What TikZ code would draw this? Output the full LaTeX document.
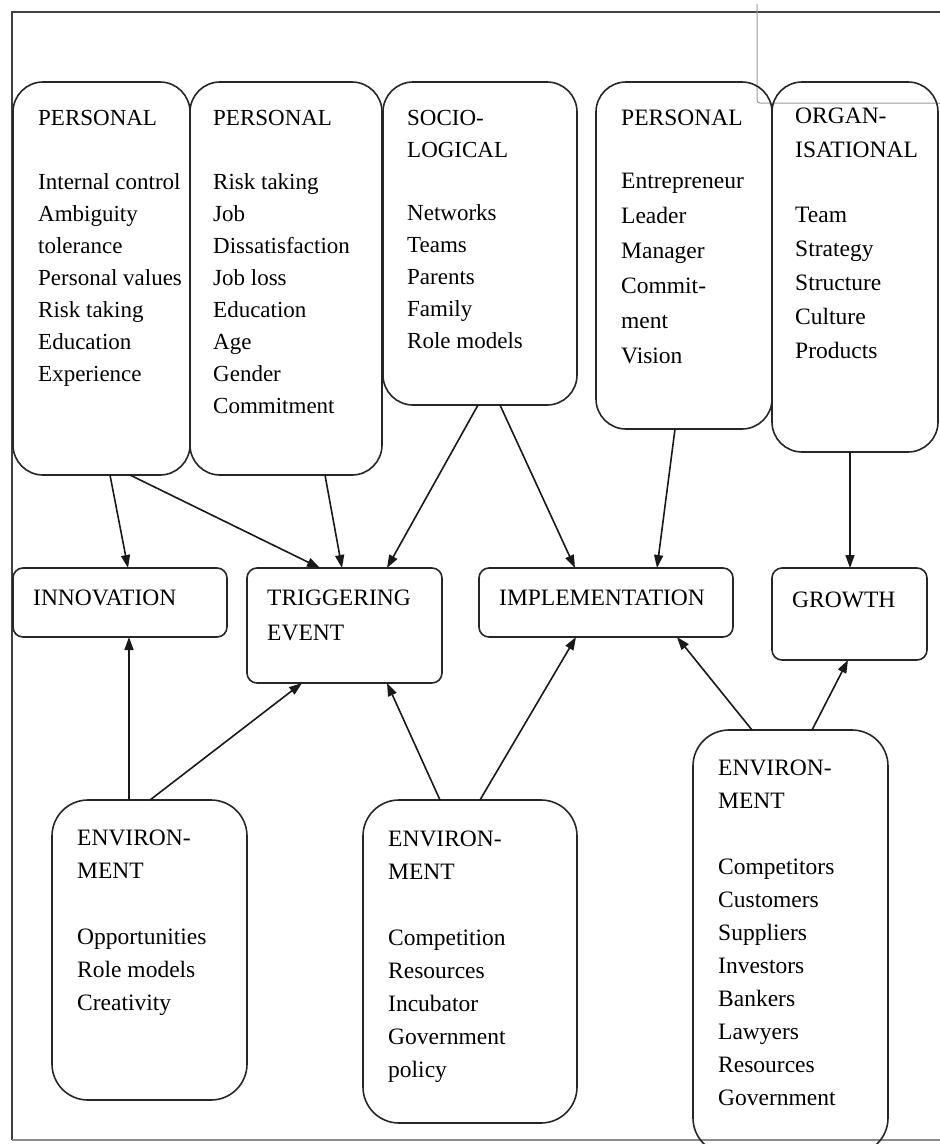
\documentclass[tikz,border=0pt]{standalone}
\usepackage{fontspec}
\setmainfont{Liberation Serif}
\usetikzlibrary{arrows.meta,calc}
\begin{document}
\begin{tikzpicture}[x=1pt,y=-1pt,
  box/.style={draw=black!85, line width=1.6pt, anchor=north west, inner sep=0pt, outer sep=0pt},
  topbox/.style={box, rounded corners=30pt},
  midbox/.style={box, rounded corners=10pt},
  envbox/.style={box, rounded corners=36pt},
  txt/.style={anchor=base west, align=left, inner sep=0pt, text=black},
  ttop/.style={txt, font=\fontsize{23}{32}\selectfont},
  ttopb/.style={txt, font=\fontsize{23.5}{35}\selectfont},
  ttopc/.style={txt, font=\fontsize{23.5}{34}\selectfont},
  tmid/.style={txt, font=\fontsize{23.5}{35}\selectfont},
  tenv/.style={txt, font=\fontsize{23.5}{33}\selectfont},
  arr/.style={line width=1.6pt, draw=black!90, -{Triangle[length=13pt,width=9pt]}},
]
\useasboundingbox (0,0) rectangle (940,1144);
% frame
\draw[line width=2pt, black!75] (940,12) -- (12,12) -- (12,1140);
\draw[line width=1.2pt, black!45] (12,1140) -- (940,1140);
\draw[line width=1pt, black!40, rounded corners=3pt] (757,4) -- (757,103) -- (940,103);

% top boxes
\node[topbox, minimum width=177pt, minimum height=393pt] (p1) at (13,82) {};
\node[topbox, minimum width=192pt, minimum height=393pt] (p2) at (190,82) {};
\node[topbox, minimum width=194pt, minimum height=323pt] (s3) at (383,82) {};
\node[topbox, minimum width=176pt, minimum height=347pt] (p4) at (596,82) {};
\node[topbox, minimum width=166pt, minimum height=370pt] (o5) at (772,82) {};

% texts anchored at the baseline of their last line
\node[ttop] (t1) at (38,381) {PERSONAL\\[32pt]Internal control\\Ambiguity\\tolerance\\Personal values\\Risk taking\\Education\\Experience};
\node[ttop] (t2) at (213,413) {PERSONAL\\[32pt]Risk taking\\Job\\Dissatisfaction\\Job loss\\Education\\Age\\Gender\\Commitment};
\node[ttop] (t3) at (407,348) {SOCIO-\\LOGICAL\\[31pt]Networks\\Teams\\Parents\\Family\\Role models};
\node[ttopb] (t4) at (621,363) {PERSONAL\\[28pt]Entrepreneur\\Leader\\Manager\\Commit-\\ment\\Vision};
\node[ttopc] (t5) at (795,358) {ORGAN-\\ISATIONAL\\[31pt]Team\\Strategy\\Structure\\Culture\\Products};

% middle boxes
\node[midbox, minimum width=214pt, minimum height=69pt] (inn) at (13,568) {};
\node[midbox, minimum width=195pt, minimum height=115pt] (trig) at (247,568) {};
\node[midbox, minimum width=254pt, minimum height=69pt] (impl) at (479,568) {};
\node[midbox, minimum width=155pt, minimum height=92pt] (grow) at (772,568) {};

\node[tmid] (tinn) at (33,605) {INNOVATION};
\node[tmid] (ttrig) at (267,640) {TRIGGERING\\EVENT};
\node[tmid] (timpl) at (499,605) {IMPLEMENTATION};
\node[tmid] (tgrow) at (792,607) {GROWTH};

% environment boxes
\node[envbox, minimum width=195pt, minimum height=300pt] (e1) at (52,800) {};
\node[envbox, minimum width=214pt, minimum height=323pt] (e2) at (363,800) {};
\node[envbox, minimum width=195pt, minimum height=424pt] (e3) at (693,730) {};

\node[tenv] (te1) at (77,1010) {ENVIRON-\\MENT\\[33pt]Opportunities\\Role models\\Creativity};
\node[tenv] (te2) at (388,1077) {ENVIRON-\\MENT\\[33pt]Competition\\Resources\\Incubator\\Government\\policy};
\node[tenv] (te3) at (718,1105) {ENVIRON-\\MENT\\[33pt]Competitors\\Customers\\Suppliers\\Investors\\Bankers\\Lawyers\\Resources\\Government};

% connectors
\draw[arr] ([xshift=97pt]p1.south west) -- ([xshift=115pt]inn.north west);
\draw[arr] ([xshift=117pt]p1.south west) -- ([xshift=73pt]trig.north west);
\draw[arr] ([xshift=135pt]p2.south west) -- ([xshift=95pt]trig.north west);
\draw[arr] ([xshift=95pt]s3.south west) -- ([xshift=140pt]trig.north west);
\draw[arr] ([xshift=117pt]s3.south west) -- ([xshift=96pt]impl.north west);
\draw[arr] ([xshift=79pt]p4.south west) -- ([xshift=178pt]impl.north west);
\draw[arr] ([xshift=78pt]o5.south west) -- ([xshift=78pt]grow.north west);
\draw[arr] ([xshift=77pt]e1.north west) -- ([xshift=116pt]inn.south west);
\draw[arr] ([xshift=98pt]e1.north west) -- ([xshift=55pt]trig.south west);
\draw[arr] ([xshift=77pt]e2.north west) -- ([xshift=140pt]trig.south west);
\draw[arr] ([xshift=117pt]e2.north west) -- ([xshift=97pt]impl.south west);
\draw[arr] ([xshift=59pt]e3.north west) -- ([xshift=198pt]impl.south west);
\draw[arr] ([xshift=119pt]e3.north west) -- ([xshift=76pt]grow.south west);
\end{tikzpicture}
\end{document}
